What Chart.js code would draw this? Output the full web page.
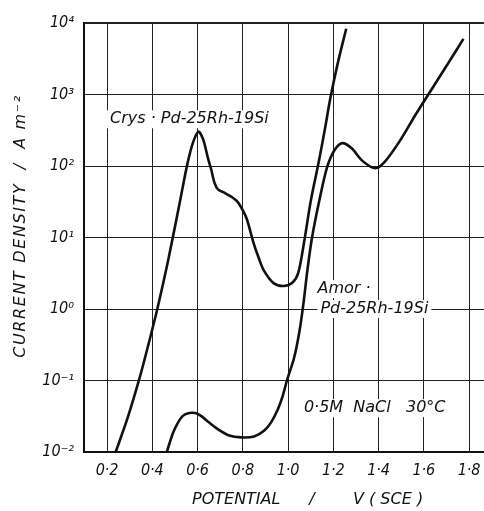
<!DOCTYPE html>
<html lang="en">
<head>
<meta charset="UTF-8">
<script src="https://cdn.jsdelivr.net/npm/chart.js"></script>
<title>Pd-25Rh-19Si polarization</title>
<style>
  body { margin: 0; background: #fff; }
</style>
</head>
<body>
<canvas id="chart" width="484" height="511"></canvas>
<script>
// tick values / labels
const xTicks = [0.2, 0.4, 0.6, 0.8, 1.0, 1.2, 1.4, 1.6, 1.8];
const yTicks = [0.01, 0.1, 1, 10, 100, 1000, 10000];
const yTickLabels = ['10⁻²', '10⁻¹', '10⁰', '10¹', '10²', '10³', '10⁴'];

// crystalline alloy: potential (V SCE) and current density (A m-2)
const crysV = [0.238, 0.29, 0.346, 0.385, 0.422, 0.47, 0.523, 0.555, 0.58, 0.604, 0.625, 0.645, 0.66, 0.675, 0.69, 0.72, 0.75, 0.775, 0.80, 0.818, 0.847, 0.87, 0.892, 0.936, 0.98, 1.02, 1.045, 1.07, 1.1, 1.135, 1.163, 1.187, 1.222, 1.257];
const crysI = [0.01, 0.0295, 0.115, 0.34, 1.0, 4.8, 33, 107, 214, 302, 234, 132, 90, 58, 47, 42, 37, 32, 24, 18, 8.5, 5.2, 3.5, 2.3, 2.1, 2.35, 3.2, 8.3, 32, 112, 331, 891, 2950, 8300];

// amorphous alloy
const amorV = [0.464, 0.49, 0.511, 0.535, 0.563, 0.59, 0.615, 0.65, 0.688, 0.74, 0.792, 0.85, 0.895, 0.925, 0.954, 0.975, 0.995, 1.027, 1.05, 1.068, 1.086, 1.106, 1.14, 1.172, 1.205, 1.24, 1.28, 1.33, 1.386, 1.43, 1.5, 1.56, 1.62, 1.7, 1.775];
const amorI = [0.01, 0.018, 0.025, 0.032, 0.035, 0.035, 0.032, 0.026, 0.021, 0.017, 0.016, 0.0165, 0.02, 0.026, 0.039, 0.059, 0.1, 0.21, 0.48, 1.2, 3.6, 10, 35, 95, 166, 209, 178, 117, 93, 117, 240, 500, 1000, 2500, 6000];

const FONT = 'DejaVu Sans';
const TICKFONT = '"Liberation Sans Narrow", "DejaVu Sans Condensed", "DejaVu Sans"';
const INK = '#111';

function pts(xs, ys) {
    return xs.map((x, i) => ({ x: x, y: ys[i] }));
}

// labels inside the plot, placed in data coordinates
const notes = [
    { text: 'Crys · Pd-25Rh-19Si', x: 0.213, y: 450 },
    { text: 'Amor ·', x: 1.13, y: 1.9 },
    { text: 'Pd-25Rh-19Si', x: 1.143, y: 1.0 },
    { text: '0·5M  NaCl   30°C', x: 1.07, y: 0.041 }
];

const textPlugin = {
    id: 'texts',
    beforeDatasetsDraw(chart) {
        const c = chart.ctx;
        const sx = chart.scales.x, sy = chart.scales.y;
        c.save();
        c.font = 'italic 16px "' + FONT + '"';
        c.textBaseline = 'middle';
        c.textAlign = 'left';
        notes.forEach(n => {
            const px = sx.getPixelForValue(n.x);
            const py = sy.getPixelForValue(n.y);
            const w = c.measureText(n.text).width;
            c.fillStyle = '#fff';
            c.fillRect(px - 3, py - 9, w + 6, 18);
            c.fillStyle = INK;
            c.fillText(n.text, px, py);
        });

        // x axis title
        c.fillText('POTENTIAL', 192, 500);
        c.textAlign = 'center';
        c.fillText('/', 312, 500);
        c.textAlign = 'left';
        c.fillText('V ( SCE )', 353, 500);

        // y axis title, stretched to the reference length
        const yt = 'CURRENT DENSITY  /  A m⁻²';
        const w0 = c.measureText(yt).width;
        if ('letterSpacing' in c) c.letterSpacing = ((262 - w0) / (yt.length - 1)).toFixed(2) + 'px';
        c.textAlign = 'center';
        c.translate(21, 226);
        c.rotate(-Math.PI / 2);
        c.fillText(yt, 0, 0);
        c.restore();
    }
};

const ctx = document.getElementById('chart').getContext('2d');
const chart = new Chart(ctx, {
    type: 'scatter',
    data: {
        datasets: [
            { label: 'Crys', data: pts(crysV, crysI) },
            { label: 'Amor', data: pts(amorV, amorI) }
        ]
    },
    options: {
        responsive: false,
        animation: false,
        showLine: true,
        layout: { padding: { top: 23, left: 0, right: 0, bottom: 0 } },
        elements: {
            point: { radius: 0 },
            line: { borderColor: INK, borderWidth: 2.6, tension: 0.3 }
        },
        plugins: {
            legend: { display: false },
            tooltip: { enabled: false }
        },
        scales: {
            x: {
                type: 'linear',
                min: 0.098,
                max: 1.866,
                afterBuildTicks: s => { s.ticks = xTicks.map(v => ({ value: v })); },
                afterFit: s => { s.height = 59; s.paddingLeft = 0; s.paddingRight = 0; },
                ticks: {
                    padding: 9,
                    color: INK,
                    font: { family: TICKFONT, style: 'italic', size: 16 },
                    callback: v => v.toFixed(1).replace('.', '·')
                },
                grid: { color: '#222', lineWidth: 1, drawTicks: false },
                border: { color: INK, width: 2 }
            },
            y: {
                type: 'logarithmic',
                min: 0.01,
                max: 10000,
                afterBuildTicks: s => { s.ticks = yTicks.map(v => ({ value: v })); },
                afterFit: s => { s.width = 84; s.paddingTop = 0; s.paddingBottom = 0; },
                ticks: {
                    padding: 10,
                    color: INK,
                    font: { family: TICKFONT, style: 'italic', size: 16 },
                    callback: v => yTickLabels[yTicks.indexOf(v)]
                },
                grid: {
                    color: '#222',
                    drawTicks: false,
                    lineWidth: c => (c.tick && c.tick.value === 10000 ? 2 : 1)
                },
                border: { color: INK, width: 2 }
            }
        }
    },
    plugins: [textPlugin]
});
</script>
</body>
</html>
